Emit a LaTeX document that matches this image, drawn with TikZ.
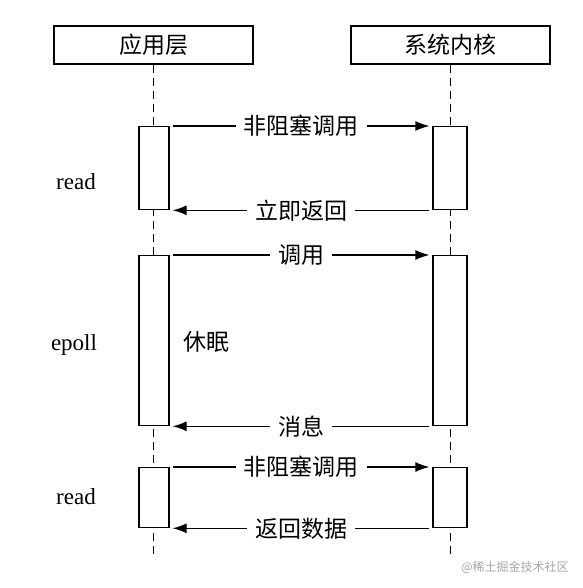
\documentclass[tikz,border=0pt]{standalone}
\usepackage{fontspec}
\setmainfont{Liberation Serif}
\newfontfamily\cjk{Noto Sans CJK SC}
\usetikzlibrary{arrows.meta}

\begin{document}
\begin{tikzpicture}[x=1pt, y=-1pt, line width=1.3pt, font=\fontsize{23}{27}\selectfont,
    head/.style = {draw, minimum width=199pt, minimum height=38pt, inner sep=0pt, font=\cjk\fontsize{23}{27}\selectfont},
    act/.style = {draw, fill=white, inner sep=0pt, anchor=north},
    life/.style = {dash pattern=on 8pt off 5pt},
    msg/.style = {-{Latex[length=14pt,width=10pt]}, shorten <=3pt, shorten >=3pt},
    lbl/.style = {fill=white, inner xsep=8pt, inner ysep=1pt, font=\cjk\fontsize{23}{27}\selectfont}]
    \useasboundingbox (0,0) rectangle (582,588);
    \node[head] (app) at (153.5,45) {应用层};
    \node[head] (sys) at (450.5,45) {系统内核};
    \coordinate (appEnd) at (153.5,557);
    \coordinate (sysEnd) at (450.5,557);
    \draw[life] (app.south) -- (appEnd);
    \draw[life] (sys.south) -- (sysEnd);

    \node[act, minimum width=30pt, minimum height=83pt] (a1) at (154,126) {};
    \node[act, minimum width=34pt, minimum height=83pt] (s1) at (450,126) {};
    \node[act, minimum width=30pt, minimum height=170pt] (a2) at (154,255) {};
    \node[act, minimum width=34pt, minimum height=170pt] (s2) at (450,255) {};
    \node[act, minimum width=30pt, minimum height=60pt] (a3) at (154,467) {};
    \node[act, minimum width=34pt, minimum height=60pt] (s3) at (450,467) {};

    \draw[msg] (a1.north east) -- node[lbl] {非阻塞调用} (s1.north west);
    \draw[msg] (s1.south west) -- node[lbl] {立即返回} (a1.south east);
    \draw[msg] (a2.north east) -- node[lbl] {调用} (s2.north west);
    \draw[msg] (s2.south west) -- node[lbl] {消息} (a2.south east);
    \draw[msg] (a3.north east) -- node[lbl] {非阻塞调用} (s3.north west);
    \draw[msg] (s3.south west) -- node[lbl] {返回数据} (a3.south east);

    \node (read1) at (76,182) {read};
    \node (epoll) at (74,345) {epoll};
    \node (read2) at (76,497) {read};
    \node[font=\cjk\fontsize{23}{27}\selectfont] (sleep) at (206,342) {休眠};
    \node[text=gray!70, font=\cjk\fontsize{12}{14}\selectfont] (mark) at (515,567) {@稀土掘金技术社区};
\end{tikzpicture}
\end{document}
